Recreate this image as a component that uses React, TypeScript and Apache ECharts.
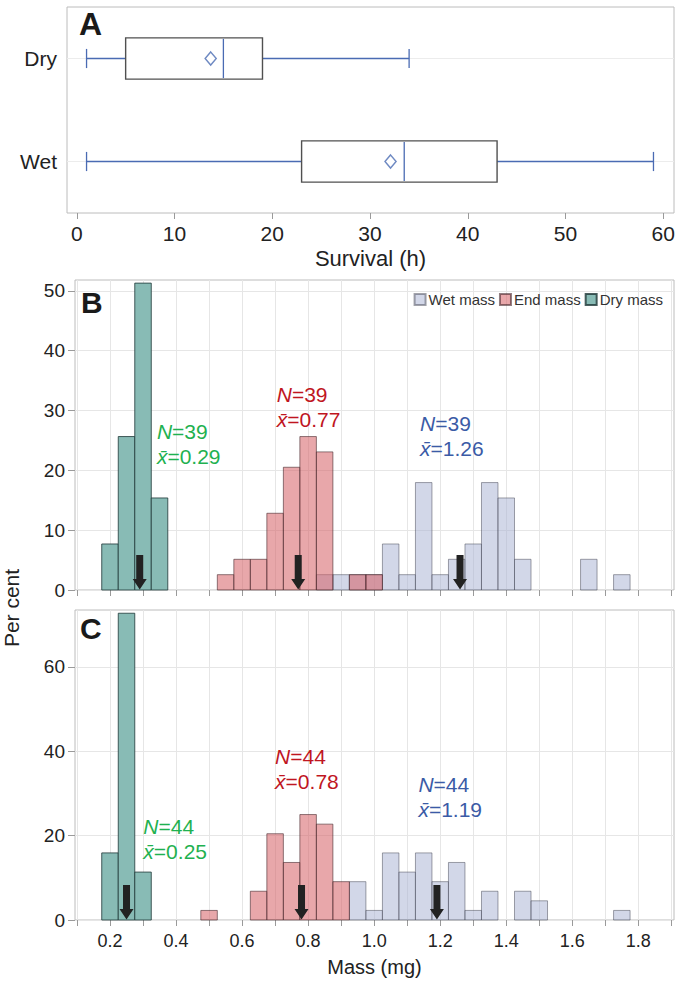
import React, { useEffect, useRef } from 'react';
import * as echarts from 'echarts';

const FONT = "'Liberation Sans', Arial, Helvetica, sans-serif";

// ---------- Panel A: survival box plots ----------
const survivalCategories = ['Dry', 'Wet'];
const survivalMin = [1, 1];
const survivalQ1 = [5, 23];
const survivalMedian = [15, 33.5];
const survivalQ3 = [19, 43];
const survivalMax = [34, 59];
const survivalMean = [13.7, 32.1];
const survivalTicks = [0, 10, 20, 30, 40, 50, 60];

// ---------- Panel B: N = 39 (per cent per 0.05 mg bin, bin centres) ----------
const wetBBins = [0.85, 0.9, 0.95, 1.0, 1.05, 1.1, 1.15, 1.2, 1.25, 1.3, 1.35, 1.4, 1.45, 1.65, 1.75];
const wetBPct = [2.56, 2.56, 2.56, 2.56, 7.69, 2.56, 17.95, 2.56, 5.13, 7.69, 17.95, 15.38, 5.13, 5.13, 2.56];
const endBBins = [0.55, 0.6, 0.65, 0.7, 0.75, 0.8, 0.85, 0.95, 1.0];
const endBPct = [2.56, 5.13, 5.13, 12.82, 20.51, 25.64, 23.08, 2.56, 2.56];
const dryBBins = [0.2, 0.25, 0.3, 0.35];
const dryBPct = [7.69, 25.64, 51.28, 15.38];
const nB = 39;
const meansB = { dry: 0.29, end: 0.77, wet: 1.26 };

// ---------- Panel C: N = 44 ----------
const wetCBins = [0.95, 1.0, 1.05, 1.1, 1.15, 1.2, 1.25, 1.3, 1.35, 1.45, 1.5, 1.75];
const wetCPct = [9.09, 2.27, 15.91, 11.36, 15.91, 9.09, 13.64, 2.27, 6.82, 6.82, 4.55, 2.27];
const endCBins = [0.5, 0.65, 0.7, 0.75, 0.8, 0.85, 0.9];
const endCPct = [2.27, 6.82, 20.45, 13.64, 25.0, 22.73, 9.09];
const dryCBins = [0.2, 0.25, 0.3];
const dryCPct = [15.91, 72.73, 11.36];
const nC = 44;
const meansC = { dry: 0.25, end: 0.78, wet: 1.19 };

// ---------- Axis ticks ----------
const massTicks = [0.1, 0.2, 0.3, 0.4, 0.5, 0.6, 0.7, 0.8, 0.9, 1.0, 1.1, 1.2, 1.3, 1.4, 1.5, 1.6, 1.7, 1.8, 1.9];
const massLabels = [0.2, 0.4, 0.6, 0.8, 1.0, 1.2, 1.4, 1.6, 1.8];
const percentTicksB = [0, 10, 20, 30, 40, 50];
const percentTicksC = [0, 20, 40, 60];
const legendNames = ['Wet mass', 'End mass', 'Dry mass'];

const BIN = 0.05;

const COLORS = {
  wet: { fill: 'rgba(165,176,210,0.5)', stroke: 'rgba(70,72,85,0.5)', text: '#3b5ba6' },
  end: { fill: 'rgba(214,98,104,0.56)', stroke: 'rgba(70,40,45,0.6)', text: '#c0161f' },
  dry: { fill: '#88bbb5', stroke: 'rgba(30,55,55,0.8)', text: '#1fb150' },
};
const BOX_BLUE = '#4a6bb3';
const FRAME = '#bcbcbc';
const GRID_LINE = '#e6e6e6';

function histSeries(name: string, bins: number[], pct: number[], idx: number, c: any, z: number) {
  return {
    name,
    type: 'custom',
    xAxisIndex: idx,
    yAxisIndex: idx,
    z,
    itemStyle: { color: c.fill, borderColor: c.stroke, borderWidth: 1 },
    encode: { x: 0, y: 1 },
    data: bins.map((b, i) => [b, pct[i]]),
    renderItem: (params: any, api: any) => {
      const ctr = api.value(0);
      const v = api.value(1);
      const tl = api.coord([ctr - BIN / 2, v]);
      const br = api.coord([ctr + BIN / 2, 0]);
      return {
        type: 'rect',
        shape: { x: tl[0], y: tl[1], width: br[0] - tl[0], height: br[1] - tl[1] },
        style: { fill: c.fill, stroke: c.stroke, lineWidth: 1 },
      };
    },
  };
}

function arrowSeries(means: number[], idx: number) {
  return {
    type: 'custom',
    xAxisIndex: idx,
    yAxisIndex: idx,
    z: 20,
    silent: true,
    encode: { x: 0, y: 1 },
    data: means.map((m) => [m, 0]),
    renderItem: (params: any, api: any) => {
      const p = api.coord([api.value(0), 0]);
      const x = p[0];
      const y = p[1];
      return {
        type: 'polygon',
        shape: {
          points: [
            [x - 3.5, y - 35],
            [x + 3.5, y - 35],
            [x + 3.5, y - 11],
            [x + 7, y - 11],
            [x, y - 0.5],
            [x - 7, y - 11],
            [x - 3.5, y - 11],
          ],
        },
        style: { fill: '#222222' },
      };
    },
  };
}

function noteSeries(notes: any[], idx: number) {
  return {
    type: 'custom',
    xAxisIndex: idx,
    yAxisIndex: idx,
    z: 21,
    silent: true,
    encode: { x: 0, y: 1 },
    data: notes.map((n) => [n.x, n.y]),
    renderItem: (params: any, api: any) => {
      const note = notes[params.dataIndex];
      const p = api.coord([api.value(0), api.value(1)]);
      return {
        type: 'text',
        x: p[0],
        y: p[1],
        style: {
          text: '{i|N}=' + note.n + '\n{i|x\u0304}=' + note.mean.toFixed(2),
          fill: note.color,
          fontSize: 21,
          fontFamily: FONT,
          lineHeight: 25,
          align: 'left',
          verticalAlign: 'top',
          rich: {
            i: { fontStyle: 'italic', fontSize: 21, fontFamily: FONT, lineHeight: 25, fill: note.color },
          },
        },
      };
    },
  };
}

function massXAxis(gridIndex: number, labels: boolean) {
  return {
    type: 'value',
    gridIndex,
    min: 0.094,
    max: 1.908,
    axisLine: { show: false },
    axisTick: { show: true, customValues: massTicks, length: 6, lineStyle: { color: '#9a9a9a' } },
    axisLabel: {
      show: labels,
      customValues: massLabels,
      formatter: (v: number) => v.toFixed(1),
      fontSize: 18,
      fontFamily: FONT,
      color: '#222',
      margin: 12,
    },
    splitLine: { show: true, lineStyle: { color: GRID_LINE, width: 1 } },
    name: labels ? 'Mass (mg)' : '',
    nameLocation: 'middle',
    nameGap: 37,
    nameTextStyle: { fontSize: 20, fontFamily: FONT, color: '#222' },
  };
}

function percentYAxis(gridIndex: number, max: number, ticks: number[]) {
  return {
    type: 'value',
    gridIndex,
    min: 0,
    max,
    axisLine: { show: false },
    axisTick: { show: true, customValues: ticks, length: 7, lineStyle: { color: '#9a9a9a' } },
    axisLabel: { customValues: ticks, fontSize: 19, fontFamily: FONT, color: '#222', margin: 10 },
    splitLine: { show: true, lineStyle: { color: GRID_LINE, width: 1 } },
  };
}

export default function App() {
  const ref = useRef<HTMLDivElement>(null);

  useEffect(() => {
    if (!ref.current) return;
    const chart = echarts.init(ref.current, undefined, { renderer: 'svg' });

    const notesB = [
      { x: 0.342, y: 28.5, n: nB, mean: meansB.dry, color: COLORS.dry.text },
      { x: 0.705, y: 34.7, n: nB, mean: meansB.end, color: COLORS.end.text },
      { x: 1.139, y: 29.9, n: nB, mean: meansB.wet, color: COLORS.wet.text },
    ];
    const notesC = [
      { x: 0.301, y: 25.1, n: nC, mean: meansC.dry, color: COLORS.dry.text },
      { x: 0.7, y: 41.8, n: nC, mean: meansC.end, color: COLORS.end.text },
      { x: 1.134, y: 35.1, n: nC, mean: meansC.wet, color: COLORS.wet.text },
    ];

    const option: any = {
      animation: false,
      backgroundColor: '#ffffff',
      textStyle: { fontFamily: FONT },
      grid: [
        { left: 67, top: 7, width: 607, height: 206, show: true, borderColor: FRAME, borderWidth: 1, backgroundColor: 'transparent' },
        { left: 75, top: 280, width: 599, height: 310, show: true, borderColor: FRAME, borderWidth: 1, backgroundColor: 'transparent' },
        { left: 75, top: 610, width: 599, height: 310, show: true, borderColor: FRAME, borderWidth: 1, backgroundColor: 'transparent' },
      ],
      xAxis: [
        {
          type: 'value',
          gridIndex: 0,
          min: -1,
          max: 61.1,
          axisLine: { show: false },
          axisTick: { show: true, customValues: survivalTicks, length: 6, lineStyle: { color: '#9a9a9a' } },
          axisLabel: { customValues: survivalTicks, fontSize: 21, fontFamily: FONT, color: '#222', margin: 10 },
          splitLine: { show: false },
          name: 'Survival (h)',
          nameLocation: 'middle',
          nameGap: 34,
          nameTextStyle: { fontSize: 22, fontFamily: FONT, color: '#222' },
        },
        massXAxis(1, false),
        massXAxis(2, true),
      ],
      yAxis: [
        {
          type: 'category',
          gridIndex: 0,
          data: survivalCategories,
          inverse: true,
          axisLine: { show: false },
          axisTick: { show: true, alignWithLabel: true, length: 7, lineStyle: { color: '#9a9a9a' } },
          axisLabel: { fontSize: 21, fontFamily: FONT, color: '#222', margin: 10 },
          splitLine: { show: false },
        },
        percentYAxis(1, 51.8, percentTicksB),
        percentYAxis(2, 73.5, percentTicksC),
      ],
      legend: {
        data: legendNames,
        right: 14,
        top: 287,
        icon: 'rect',
        itemWidth: 11,
        itemHeight: 11,
        itemGap: 4,
        selectedMode: false,
        textStyle: { fontSize: 15, fontFamily: FONT, color: '#333', padding: [0, 0, 0, -2] },
      },
      graphic: [
        { type: 'text', x: 79, y: 24, style: { text: 'A', font: `bold 32px ${FONT}`, fill: '#1a1a1a', verticalAlign: 'middle' } },
        { type: 'text', x: 81, y: 302, style: { text: 'B', font: `bold 30px ${FONT}`, fill: '#1a1a1a', verticalAlign: 'middle' } },
        { type: 'text', x: 80, y: 628, style: { text: 'C', font: `bold 30px ${FONT}`, fill: '#1a1a1a', verticalAlign: 'middle' } },
        {
          type: 'text',
          x: 11,
          y: 608,
          rotation: Math.PI / 2,
          style: { text: 'Per cent', font: `21px ${FONT}`, fill: '#222', align: 'center', verticalAlign: 'middle' },
        },
      ],
      series: [
        {
          type: 'custom',
          xAxisIndex: 0,
          yAxisIndex: 0,
          encode: { y: 0, x: [1, 2, 3, 4, 5] },
          data: survivalCategories.map((c, i) => [i, survivalMin[i], survivalQ1[i], survivalMedian[i], survivalQ3[i], survivalMax[i]]),
          renderItem: (params: any, api: any) => {
            const cat = api.value(0);
            const lo = api.value(1);
            const q1 = api.value(2);
            const md = api.value(3);
            const q3 = api.value(4);
            const hi = api.value(5);
            const band = api.size([0, 1])[1];
            const y = api.coord([0, cat])[1];
            const X = (v: number) => api.coord([v, cat])[0];
            const bh = band * 0.2;
            const cap = band * 0.093;
            const cs = params.coordSys;
            const blue = { stroke: BOX_BLUE, lineWidth: 1.3 };
            return {
              type: 'group',
              children: [
                { type: 'line', shape: { x1: cs.x, y1: y, x2: cs.x + cs.width, y2: y }, style: { stroke: '#ececec', lineWidth: 1 } },
                { type: 'line', shape: { x1: X(lo), y1: y, x2: X(q1), y2: y }, style: blue },
                { type: 'line', shape: { x1: X(q3), y1: y, x2: X(hi), y2: y }, style: blue },
                { type: 'line', shape: { x1: X(lo), y1: y - cap, x2: X(lo), y2: y + cap }, style: blue },
                { type: 'line', shape: { x1: X(hi), y1: y - cap, x2: X(hi), y2: y + cap }, style: blue },
                {
                  type: 'rect',
                  shape: { x: X(q1), y: y - bh, width: X(q3) - X(q1), height: 2 * bh },
                  style: { fill: '#ffffff', stroke: '#505050', lineWidth: 1.4 },
                },
                { type: 'line', shape: { x1: X(md), y1: y - bh + 1, x2: X(md), y2: y + bh - 1 }, style: blue },
              ],
            };
          },
        },
        {
          type: 'scatter',
          xAxisIndex: 0,
          yAxisIndex: 0,
          z: 5,
          symbol: 'diamond',
          symbolSize: [11, 13],
          itemStyle: { color: '#ffffff', borderColor: BOX_BLUE, borderWidth: 1.5 },
          data: survivalCategories.map((c, i) => [survivalMean[i], i]),
        },
        histSeries('Wet mass', wetBBins, wetBPct, 1, COLORS.wet, 2),
        histSeries('End mass', endBBins, endBPct, 1, COLORS.end, 3),
        histSeries('Dry mass', dryBBins, dryBPct, 1, COLORS.dry, 4),
        arrowSeries([meansB.dry, meansB.end, meansB.wet], 1),
        noteSeries(notesB, 1),
        histSeries('Wet mass', wetCBins, wetCPct, 2, COLORS.wet, 2),
        histSeries('End mass', endCBins, endCPct, 2, COLORS.end, 3),
        histSeries('Dry mass', dryCBins, dryCPct, 2, COLORS.dry, 4),
        arrowSeries([meansC.dry, meansC.end, meansC.wet], 2),
        noteSeries(notesC, 2),
      ],
    };

    chart.setOption(option);
    return () => chart.dispose();
  }, []);

  return (
    <div
      ref={ref}
      style={{ position: 'fixed', left: 0, top: 0, width: 682, height: 981, background: '#fff' }}
    />
  );
}
